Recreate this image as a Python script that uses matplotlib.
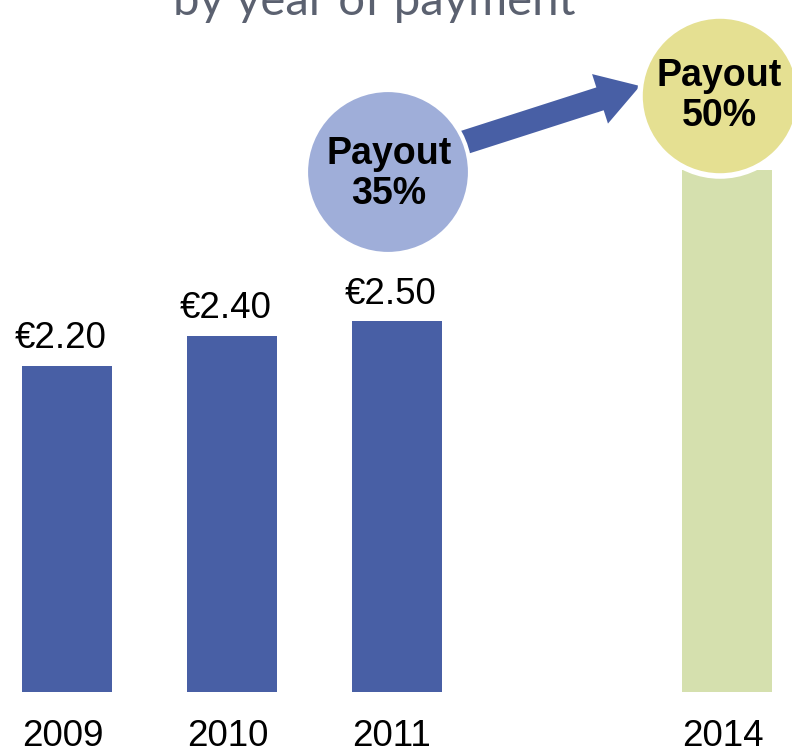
import numpy as np
import matplotlib.pyplot as plt
from matplotlib.patches import Circle, FancyArrow

plt.rcParams['font.family'] = ['Liberation Sans', 'DejaVu Sans']

# data
years = ['2009', '2010', '2011', '2014']
positions = [0, 1, 2, 4]
dividends = [2.20, 2.40, 2.50, 3.52]
value_labels = ['€2.20', '€2.40', '€2.50', '']
bar_colors = ['#485FA5', '#485FA5', '#485FA5', '#D5E0AE']
payouts = ['Payout\n35%', 'Payout\n50%']

fig = plt.figure(figsize=(7.92, 7.51), dpi=100)

# bars
ax = fig.add_axes([0, 0, 1, 1])
width = 0.545
ax.bar(positions, dividends, width=width, color=bar_colors, zorder=1)
ax.set_xlim(-0.406, 4.394)
ax.set_ylim(-0.398, 4.669)
ax.axis('off')

for p, v, lab in zip(positions, dividends, value_labels):
    if lab:
        ax.text(p - 0.04, v + 0.121, lab, ha='center', va='baseline', fontsize=26.5)

for p, y in zip(positions, years):
    ax.text(p - width / 2, -0.365, y, ha='left', va='baseline', fontsize=26.5)

# overlay in pixel coordinates for circles/arrow/title
ov = fig.add_axes([0, 0, 1, 1])
ov.set_xlim(0, 792)
ov.set_ylim(751, 0)
ov.axis('off')
ov.patch.set_alpha(0)

ov.add_patch(FancyArrow(450, 147, 190, -61, width=24, head_width=52, head_length=42,
                        length_includes_head=True, color='#485FA5', lw=0, zorder=1))
ov.add_patch(Circle((388, 172), 82, facecolor='#9FAED9', edgecolor='white', lw=3, zorder=2))
ov.add_patch(Circle((720, 96), 80, facecolor='#E5E092', edgecolor='white', lw=4, zorder=2))

ov.text(389, 174, payouts[0], ha='center', va='center', fontsize=27, fontweight='bold',
        linespacing=1.15, zorder=3)
ov.text(719, 96, payouts[1], ha='center', va='center', fontsize=27, fontweight='bold',
        linespacing=1.15, zorder=3)

ov.text(374, 15, 'by year of payment', ha='center', va='baseline', fontsize=34,
        color='#5B6170', family=['Lato', 'DejaVu Sans'])

fig.savefig('out.png', dpi=100)
